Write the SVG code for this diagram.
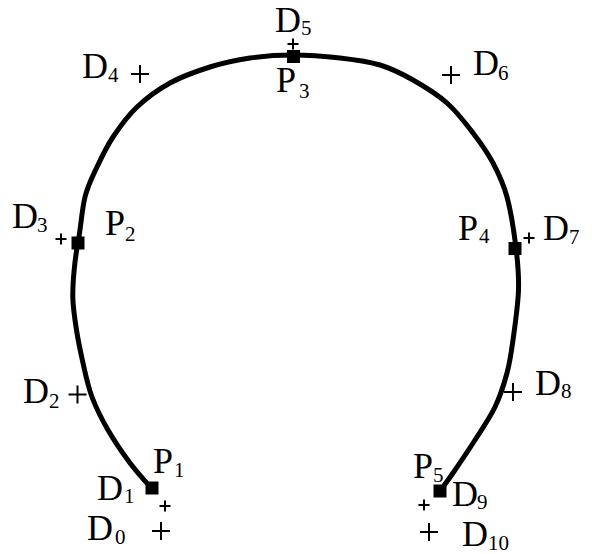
<svg xmlns="http://www.w3.org/2000/svg" width="592" height="554" viewBox="0 0 592 554">
<style>
  text { font-family: "Liberation Serif", "Times New Roman", serif; fill: #000; }
  .m { font-size: 36px; }
  .s { font-size: 21px; }
  .curve { fill: none; stroke: #000; stroke-width: 5; stroke-linecap: butt; stroke-linejoin: round; }
  .sq { fill: #000; }
  .pl { stroke: #000; stroke-width: 2; fill: none; }
</style>
<defs>
  <path id="bigplus" class="pl" d="M-9,0 H9 M0,-9 V9"/>
  <path id="smallplus" class="pl" d="M-5.5,0 H5.5 M0,-5.5 V5.5"/>
  <rect id="sqr" class="sq" x="-6.5" y="-6.5" width="13" height="13"/>
</defs>
<rect width="592" height="554" fill="#fff"/>

<g id="connectors">
  <path class="curve" d="M152,489 C144.67,480.33 137.33,472.83 130,463 C122.67,453.17 114.33,441 108,430 C101.67,419 96.17,408.17 92,397 C87.83,385.83 85.5,374.17 83,363 C80.5,351.83 78.4,342 76.5,330 C74.6,318 73,308 72.8,297 C72.6,282 75,257 78,243 C80.8,228 81.83,209.67 85,197 C88.17,184.33 92.33,177 97,167 C101.67,157 106.33,147 113,137 C119.67,127 127.5,116 137,107 C146.5,98 157.83,89.67 170,83 C182.17,76.33 196.67,71.17 210,67 C223.33,62.83 236.17,60 250,58 C263.83,56 278,55 293,55 C308,55 325.5,56.33 340,58 C354.5,59.67 367.83,61.33 380,65 C392.17,68.67 401.83,73.67 413,80 C424.17,86.33 437,94.17 447,103 C457,111.83 465.33,123 473,133 C480.67,143 487.33,152.33 493,163 C498.67,173.67 503.17,182.83 507,197 C510.83,211.17 514.08,232.5 516,248 C517.92,263.5 519,274.67 518.5,290 C518,305.33 514.92,326.17 513,340 C511.08,353.83 510,361.83 507,373 C504,384.17 500.33,395.83 495,407 C489.67,418.17 482,429 475,440 C468,451 458.83,464.5 453,473 C447.17,481.5 444.33,485 440,491"/>
</g>

<g id="P1"><use href="#sqr" x="152" y="488"/><text class="m" x="153" y="473">P<tspan class="s" x="174" y="477">1</tspan></text></g>
<g id="P2"><use href="#sqr" x="78" y="243"/><text class="m" x="105" y="235">P<tspan class="s" x="125" y="241">2</tspan></text></g>
<g id="P3"><use href="#sqr" x="293.5" y="56.5"/><text class="m" x="276" y="92">P<tspan class="s" x="299" y="98">3</tspan></text></g>
<g id="P4"><use href="#sqr" x="515" y="248.5"/><text class="m" x="458" y="240">P<tspan class="s" x="479" y="243">4</tspan></text></g>
<g id="P5"><use href="#sqr" x="440" y="491"/><text class="m" x="413" y="478">P<tspan class="s" x="433" y="482">5</tspan></text></g>

<g id="D0"><use href="#bigplus" x="161" y="531"/><text class="m" x="87" y="540">D<tspan class="s" x="115" y="544">0</tspan></text></g>
<g id="D1"><use href="#smallplus" x="165" y="506"/><text class="m" x="97" y="500">D<tspan class="s" x="124" y="503">1</tspan></text></g>
<g id="D2"><use href="#bigplus" x="77.5" y="394.5"/><text class="m" x="23" y="403">D<tspan class="s" x="49" y="408">2</tspan></text></g>
<g id="D3"><use href="#smallplus" x="61" y="239"/><text class="m" x="12" y="228">D<tspan class="s" x="37" y="232">3</tspan></text></g>
<g id="D4"><use href="#bigplus" x="140" y="74"/><text class="m" x="82" y="78">D<tspan class="s" x="108" y="82">4</tspan></text></g>
<g id="D5"><use href="#smallplus" x="293" y="44"/><text class="m" x="275" y="32">D<tspan class="s" x="301" y="35">5</tspan></text></g>
<g id="D6"><use href="#bigplus" x="451" y="75"/><text class="m" x="473" y="75">D<tspan class="s" x="498" y="80">6</tspan></text></g>
<g id="D7"><use href="#smallplus" x="529" y="238"/><text class="m" x="543" y="240">D<tspan class="s" x="569" y="244">7</tspan></text></g>
<g id="D8"><use href="#bigplus" x="513" y="392"/><text class="m" x="535" y="395">D<tspan class="s" x="561" y="398">8</tspan></text></g>
<g id="D9"><use href="#smallplus" x="424" y="505"/><text class="m" x="452" y="506">D<tspan class="s" x="477" y="509">9</tspan></text></g>
<g id="D10"><use href="#bigplus" x="429" y="532"/><text class="m" x="462" y="546">D<tspan class="s" x="488" y="550">10</tspan></text></g>
</svg>
